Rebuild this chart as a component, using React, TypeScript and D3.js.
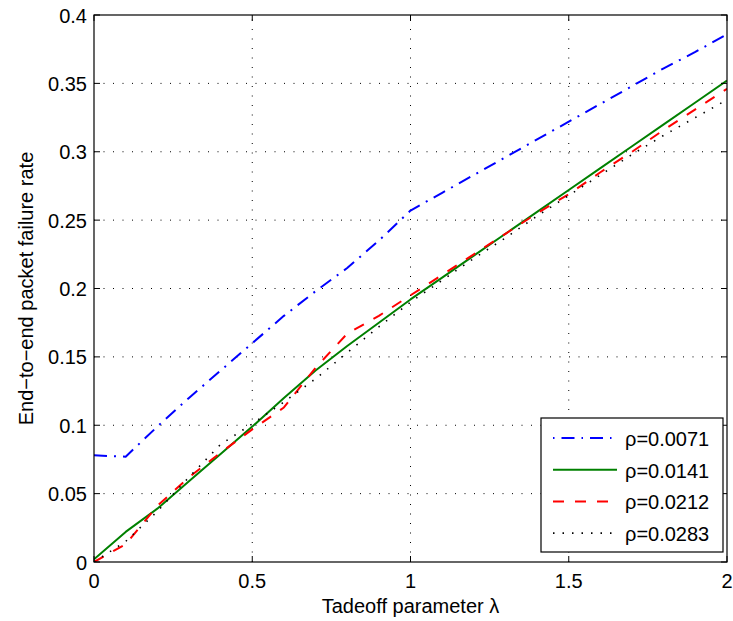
import React from "react";
import * as d3 from "d3";

// Tradeoff parameter λ (shared x values for every curve)
const lambda = [0, 0.1, 0.2, 0.3, 0.4, 0.5, 0.6, 0.7, 0.8, 0.9, 1.0, 1.1, 1.2, 1.3, 1.4, 1.5, 1.6, 1.7, 1.8, 1.9, 2.0];

// End-to-end packet failure rate for each ρ
const rho0071 = [0.078, 0.077, 0.099, 0.120, 0.140, 0.160, 0.180, 0.198, 0.215, 0.235, 0.257, 0.270, 0.283, 0.296, 0.309, 0.322, 0.335, 0.348, 0.361, 0.373, 0.386];
const rho0141 = [0.002, 0.022, 0.039, 0.059, 0.079, 0.099, 0.120, 0.140, 0.158, 0.175, 0.192, 0.208, 0.224, 0.240, 0.256, 0.272, 0.288, 0.304, 0.320, 0.336, 0.352];
const rho0212 = [0.000, 0.013, 0.041, 0.062, 0.080, 0.097, 0.113, 0.142, 0.167, 0.180, 0.195, 0.210, 0.225, 0.240, 0.255, 0.269, 0.285, 0.300, 0.316, 0.331, 0.346];
const rho0283 = [0.000, 0.015, 0.037, 0.062, 0.086, 0.101, 0.117, 0.134, 0.153, 0.172, 0.190, 0.206, 0.222, 0.237, 0.253, 0.268, 0.283, 0.298, 0.312, 0.325, 0.338];

const seriesNames = ["ρ=0.0071", "ρ=0.0141", "ρ=0.0212", "ρ=0.0283"];
const seriesValues = [rho0071, rho0141, rho0212, rho0283];

const xTicks = [0, 0.5, 1, 1.5, 2];
const xTickLabels = ["0", "0.5", "1", "1.5", "2"];
const yTicks = [0, 0.05, 0.1, 0.15, 0.2, 0.25, 0.3, 0.35, 0.4];
const yTickLabels = ["0", "0.05", "0.1", "0.15", "0.2", "0.25", "0.3", "0.35", "0.4"];

const xLabel = "Tadeoff parameter λ";
const yLabel = "End−to−end packet failure rate";

const styles = [
  { color: "#0000ff", dash: "13,7,2,7", width: 2 },
  { color: "#008000", dash: "none", width: 2 },
  { color: "#ff0000", dash: "11,11", width: 2 },
  { color: "#000000", dash: "1.5,8", width: 1.6 },
];

const W = 733;
const H = 621;
const left = 94;
const right = 727;
const top = 15;
const bottom = 562;
const font = "'Liberation Sans', Arial, Helvetica, sans-serif";

export default function App() {
  const x = d3.scaleLinear().domain([0, 2]).range([left, right]);
  const y = d3.scaleLinear().domain([0, 0.4]).range([bottom, top]);
  const line = d3
    .line<number>()
    .x((_, i) => x(lambda[i]))
    .y((d) => y(d));

  const tickLen = 6;
  const legend = { x0: 541, y0: 418, x1: 723, y1: 552 };
  const rowY = (i: number) => 438 + i * 31.7;

  return (
    <svg
      width={W}
      height={H}
      style={{ position: "absolute", left: 0, top: 0, background: "#fff" }}
      fontFamily={font}
    >
      <rect x={0} y={0} width={W} height={H} fill="#fff" />
      <defs>
        <clipPath id="plotArea">
          <rect x={left} y={top} width={right - left} height={bottom - top} />
        </clipPath>
      </defs>

      {/* dotted grid */}
      <g stroke="#000" strokeWidth={1} strokeDasharray="1,8.5">
        {xTicks.slice(1, -1).map((t) => (
          <line key={"gx" + t} x1={x(t)} x2={x(t)} y1={bottom} y2={top} />
        ))}
        {yTicks.slice(1, -1).map((t) => (
          <line key={"gy" + t} x1={left} x2={right} y1={y(t)} y2={y(t)} />
        ))}
      </g>

      {/* curves */}
      <g clipPath="url(#plotArea)" fill="none">
        {seriesValues.map((vals, i) => (
          <path
            key={seriesNames[i]}
            d={line(vals) || ""}
            stroke={styles[i].color}
            strokeWidth={styles[i].width}
            strokeDasharray={styles[i].dash}
            strokeLinejoin="round"
          />
        ))}
      </g>

      {/* axes box and ticks */}
      <rect x={left} y={top} width={right - left} height={bottom - top} fill="none" stroke="#000" strokeWidth={1.2} />
      <g stroke="#000" strokeWidth={1}>
        {xTicks.map((t) => (
          <g key={"tx" + t}>
            <line x1={x(t)} x2={x(t)} y1={bottom} y2={bottom - tickLen} />
            <line x1={x(t)} x2={x(t)} y1={top} y2={top + tickLen} />
          </g>
        ))}
        {yTicks.map((t) => (
          <g key={"ty" + t}>
            <line x1={left} x2={left + tickLen} y1={y(t)} y2={y(t)} />
            <line x1={right} x2={right - tickLen} y1={y(t)} y2={y(t)} />
          </g>
        ))}
      </g>

      {/* tick labels */}
      <g fontSize={20} fill="#000">
        {xTicks.map((t, i) => (
          <text key={"lx" + t} x={x(t)} y={588} textAnchor="middle">
            {xTickLabels[i]}
          </text>
        ))}
        {yTicks.map((t, i) => (
          <text key={"ly" + t} x={87} y={y(t) + 7.5} textAnchor="end">
            {yTickLabels[i]}
          </text>
        ))}
      </g>

      {/* axis titles */}
      <text x={(left + right) / 2} y={613} textAnchor="middle" fontSize={20}>
        {xLabel}
      </text>
      <text
        transform={`translate(33,${(top + bottom) / 2}) rotate(-90)`}
        textAnchor="middle"
        fontSize={20}
      >
        {yLabel}
      </text>

      {/* legend */}
      <rect
        x={legend.x0}
        y={legend.y0}
        width={legend.x1 - legend.x0}
        height={legend.y1 - legend.y0}
        fill="#fff"
        stroke="#000"
        strokeWidth={1.2}
      />
      {seriesNames.map((name, i) => (
        <g key={"leg" + name}>
          <line
            x1={553}
            x2={617}
            y1={rowY(i)}
            y2={rowY(i)}
            stroke={styles[i].color}
            strokeWidth={styles[i].width}
            strokeDasharray={i === 0 ? "1.5,7,13,7" : styles[i].dash}
          />
          <text x={625} y={rowY(i) + 8} fontSize={20}>
            {name}
          </text>
        </g>
      ))}
    </svg>
  );
}
